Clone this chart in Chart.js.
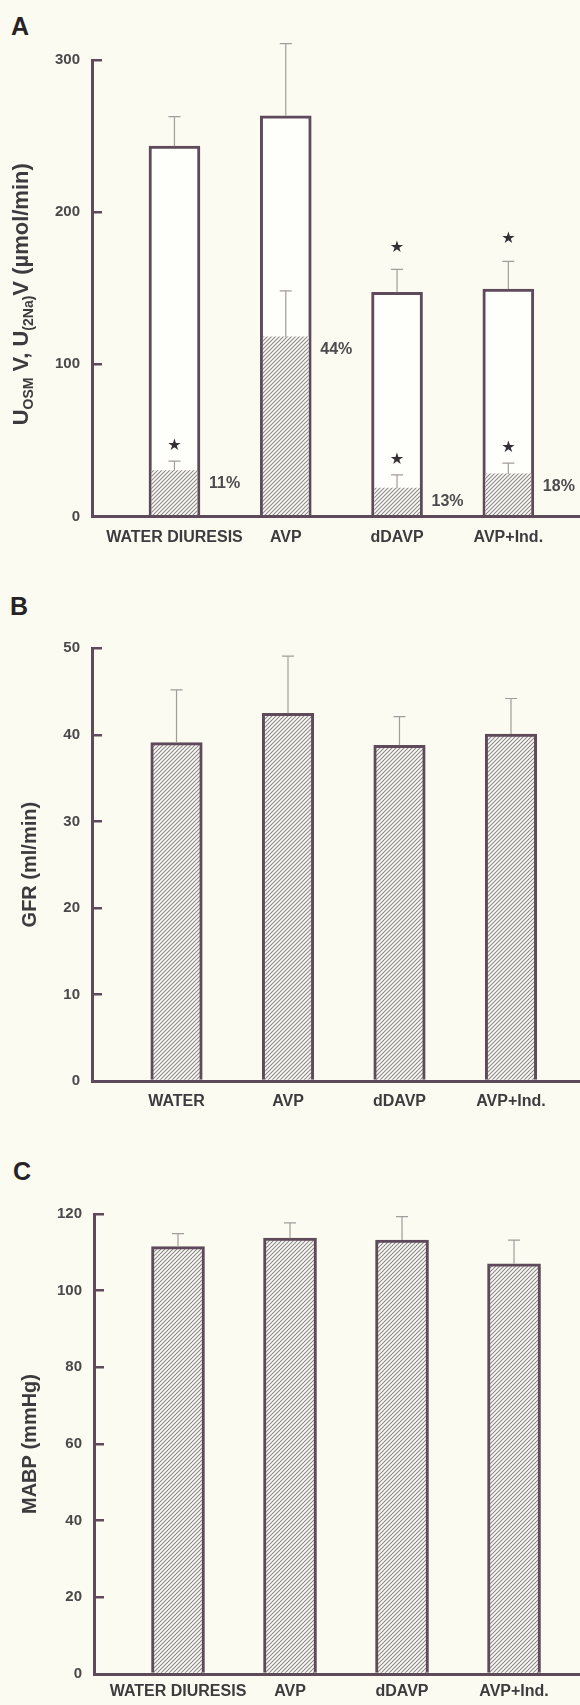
<!DOCTYPE html>
<html>
<head>
<meta charset="utf-8">
<script src="https://cdn.jsdelivr.net/npm/chart.js@4.4.1/dist/chart.umd.min.js"></script>
<style>
  html, body { margin: 0; padding: 0; background: #fbfbf1; }
  body { width: 580px; height: 1705px; position: relative; overflow: hidden; }
  canvas { position: absolute; left: 0; display: block; }
  .letter { position: absolute; font: bold 25px "Liberation Sans", Arial, sans-serif; line-height: 1; color: #262326; }
</style>
</head>
<body>
<div class="letter" style="left:11px;top:14px">A</div>
<div class="letter" style="left:10px;top:594px">B</div>
<div class="letter" style="left:13px;top:1159px">C</div>
<canvas id="chartA" width="580" height="560" style="top:0"></canvas>
<canvas id="chartB" width="580" height="570" style="top:560px"></canvas>
<canvas id="chartC" width="580" height="575" style="top:1130px"></canvas>
<script>
const groupsLong = ["WATER DIURESIS", "AVP", "dDAVP", "AVP+Ind."];
const groupsShort = ["WATER", "AVP", "dDAVP", "AVP+Ind."];

// A: total solute (open bars) and sodium part (hatched)
const osmMean = [243.4, 263.3, 147.3, 149.5];
const osmSem = [19.4, 47.5, 15.1, 18.2];
const osmStar = [false, false, true, true];
const naMean = [30.2, 118.0, 18.6, 28.0];
const naSem = [6.2, 30.3, 8.8, 7.1];
const naStar = [true, false, true, true];
const naShare = ["11%", "44%", "13%", "18%"];
const ticksA = [0, 100, 200, 300];

// B: GFR
const gfrMean = [39.1, 42.5, 38.8, 40.1];
const gfrSem = [6.1, 6.6, 3.3, 4.1];
const ticksB = [0, 10, 20, 30, 40, 50];

// C: MABP
const mabpMean = [111.5, 113.7, 113.2, 107.0];
const mabpSem = [3.4, 4.0, 6.1, 6.2];
const ticksC = [0, 20, 40, 60, 80, 100, 120];

const FONT = '"Liberation Sans", Arial, sans-serif';
const AXIS = "#5e4a5a";
const ERR = "#a39c9c";
const TXT = "#3e3a3e";

function hatch() {
  const c = document.createElement("canvas");
  c.width = 4; c.height = 4;
  const g = c.getContext("2d");
  g.fillStyle = "#fdfdf8";
  g.fillRect(0, 0, 4, 4);
  g.strokeStyle = "#8d8686";
  g.lineWidth = 1.1;
  g.beginPath();
  g.moveTo(-1, 5); g.lineTo(5, -1);
  g.moveTo(-1, 1); g.lineTo(1, -1);
  g.moveTo(3, 5); g.lineTo(5, 3);
  g.stroke();
  return g.createPattern(c, "repeat");
}
const HATCH = hatch();

const pts = arr => arr.map((v, i) => ({ x: i, y: v }));

// error bars, stars, share labels, rich y title
const marks = {
  id: "marks",
  afterDatasetsDraw(chart, args, o) {
    const ctx = chart.ctx;
    const ys = chart.scales.y;
    ctx.save();
    (o.series || []).forEach(s => {
      const meta = chart.getDatasetMeta(s.dataset);
      const vals = chart.data.datasets[s.dataset].data;
      meta.data.forEach((bar, i) => {
        const top = ys.getPixelForValue(vals[i].y + s.err[i]);
        ctx.strokeStyle = ERR;
        ctx.lineWidth = 1.2;
        ctx.beginPath();
        ctx.moveTo(bar.x, bar.y);
        ctx.lineTo(bar.x, top);
        ctx.moveTo(bar.x - 6, top);
        ctx.lineTo(bar.x + 6, top);
        ctx.stroke();
        if (s.star && s.star[i]) {
          ctx.fillStyle = "#342e36";
          ctx.font = '16px "DejaVu Sans"';
          ctx.textAlign = "center";
          ctx.textBaseline = "middle";
          ctx.fillText("\u2605", bar.x, top - s.starGap);
        }
        if (s.share) {
          ctx.fillStyle = "#4e4a4e";
          ctx.font = "bold 16px " + FONT;
          ctx.textAlign = "left";
          ctx.textBaseline = "middle";
          ctx.fillText(s.share[i], bar.x + s.shareDx, bar.y + 13);
        }
      });
    });
    ctx.restore();
  },
  afterDraw(chart, args, o) {
    if (!o.title) return;
    const ctx = chart.ctx;
    const a = chart.chartArea;
    const t = o.title;
    ctx.save();
    ctx.translate(t.x, (a.top + a.bottom) / 2 + t.shift);
    ctx.rotate(-Math.PI / 2);
    ctx.fillStyle = TXT;
    ctx.textBaseline = "alphabetic";
    ctx.textAlign = "left";
    const fontOf = p => "bold " + (p.sub ? t.subSize : t.size) + "px " + FONT;
    let w = 0;
    t.parts.forEach(p => { ctx.font = fontOf(p); w += ctx.measureText(p.text).width; });
    let x = -w / 2;
    t.parts.forEach(p => {
      ctx.font = fontOf(p);
      ctx.fillText(p.text, x, p.sub ? t.subDrop : 0);
      x += ctx.measureText(p.text).width;
    });
    ctx.restore();
  }
};

function makeChart(id, p) {
  return new Chart(document.getElementById(id), {
    type: "bar",
    data: { datasets: p.datasets },
    plugins: [marks],
    options: {
      responsive: false,
      devicePixelRatio: 1,
      animation: false,
      layout: { padding: { top: p.padTop, right: 0, bottom: 0, left: 0 } },
      plugins: {
        legend: { display: false },
        tooltip: { enabled: false },
        marks: p.marks
      },
      scales: {
        x: {
          type: "linear",
          min: p.xMin,
          max: p.xMax,
          offset: false,
          afterBuildTicks: s => { s.ticks = p.groups.map((g, i) => ({ value: i })); },
          afterFit: s => { s.height = p.xHeight; },
          grid: { display: false, drawTicks: false },
          border: { display: true, color: AXIS, width: 3, z: 1 },
          ticks: {
            autoSkip: false, maxRotation: 0, padding: p.labelPad,
            color: TXT, font: { family: FONT, size: 16, weight: "bold" },
            callback: v => p.groups[v]
          }
        },
        y: {
          min: 0,
          max: p.ticks[p.ticks.length - 1],
          afterBuildTicks: s => { s.ticks = p.ticks.map(v => ({ value: v })); },
          afterFit: s => { s.width = p.left; },
          grid: { drawOnChartArea: false, drawTicks: true, tickLength: -10, color: AXIS, lineWidth: 2.5 },
          border: { display: true, color: AXIS, width: 3, z: 1 },
          ticks: { padding: 22, color: "#4b474b", font: { family: FONT, size: 15, weight: "bold" } },
          title: p.yTitle
            ? { display: true, text: p.yTitle, color: TXT, font: { family: FONT, size: 20, weight: "bold" }, padding: { top: 18 } }
            : { display: false }
        }
      }
    }
  });
}

makeChart("chartA", {
  groups: groupsLong, ticks: ticksA,
  left: 92, padTop: 60, xHeight: 43.5, labelPad: 11, xMin: -0.741, xMax: 3.644,
  datasets: [
    { data: pts(osmMean), backgroundColor: "#fefefb", borderColor: AXIS, borderWidth: 3,
      borderSkipped: "start", barThickness: 51, grouped: false, order: 2 },
    { data: pts(naMean), backgroundColor: HATCH, borderWidth: 0,
      barThickness: 45, grouped: false, order: 1 }
  ],
  marks: {
    series: [
      { dataset: 0, err: osmSem, star: osmStar, starGap: 22 },
      { dataset: 1, err: naSem, star: naStar, starGap: 15, share: naShare, shareDx: 34.5 }
    ],
    title: {
      x: 28, shift: 6, size: 22, subSize: 14, subDrop: 5,
      parts: [
        { text: "U" }, { text: "OSM", sub: true }, { text: " V, U" },
        { text: "(2Na)", sub: true }, { text: "V (\u00b5mol/min)" }
      ]
    }
  }
});

makeChart("chartB", {
  groups: groupsShort, ticks: ticksB, yTitle: "GFR (ml/min)",
  left: 92, padTop: 88.3, xHeight: 49, labelPad: 11, xMin: -0.758, xMax: 3.619,
  datasets: [
    { data: pts(gfrMean), backgroundColor: HATCH, borderColor: AXIS, borderWidth: 3,
      borderSkipped: "start", barThickness: 51.5 }
  ],
  marks: { series: [{ dataset: 0, err: gfrSem }] }
});

makeChart("chartC", {
  groups: groupsLong, ticks: ticksC, yTitle: "MABP (mmHg)",
  left: 94, padTop: 84, xHeight: 26, labelPad: 8, xMin: -0.75, xMax: 3.589,
  datasets: [
    { data: pts(mabpMean), backgroundColor: HATCH, borderColor: AXIS, borderWidth: 3,
      borderSkipped: "start", barThickness: 53 }
  ],
  marks: { series: [{ dataset: 0, err: mabpSem }] }
});
</script>
</body>
</html>
